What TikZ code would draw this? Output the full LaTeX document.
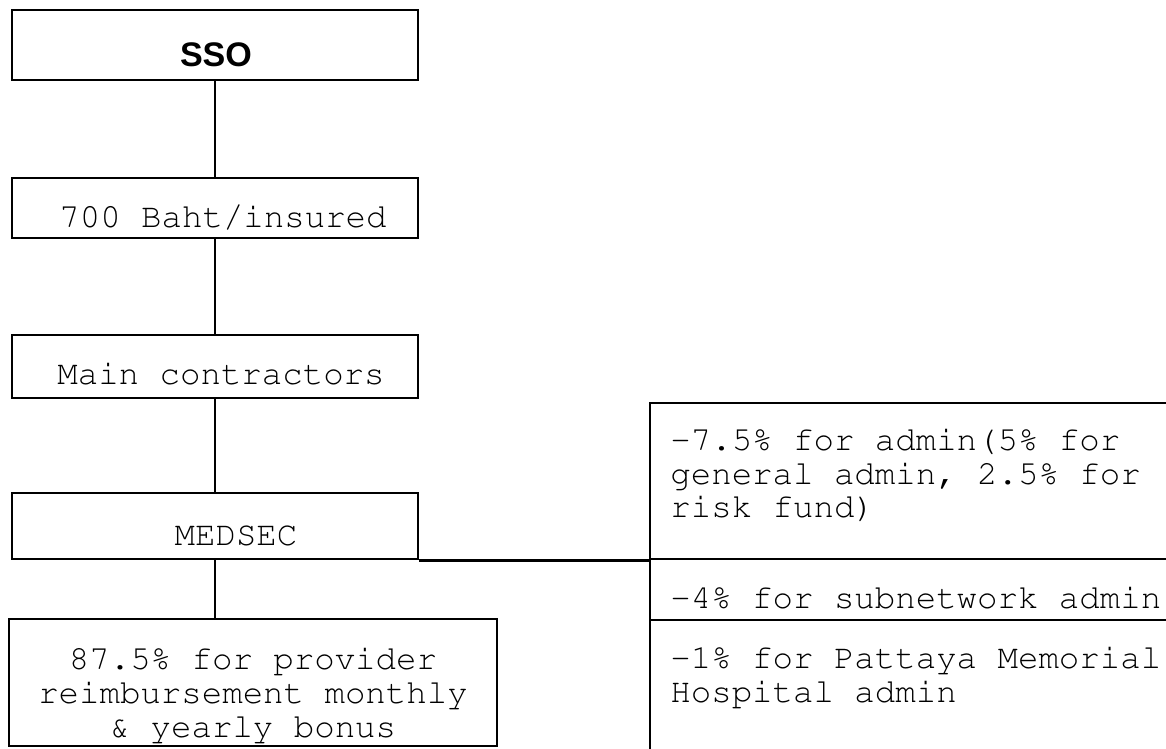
\documentclass[tikz,border=0pt]{standalone}
\usepackage[T1]{fontenc}
\usepackage{fontspec}
\setmainfont{Liberation Serif}
\setsansfont{Liberation Sans}
\usepackage{tikz}
\usetikzlibrary{calc, fit}

\begin{document}
\begin{tikzpicture}[x=0.02cm, y=-0.02cm, line width=1.6pt,
  box/.style={draw, inner sep=0pt},
  txt/.style={font=\fontencoding{T1}\fontfamily{pcr}\fontsize{19.4}{19.1}\selectfont, inner sep=0pt},
  head/.style={font=\sffamily\bfseries\fontsize{19.4}{19.1}\selectfont, inner sep=0pt}]
  \useasboundingbox (0,0) rectangle (1166,749);
  \clip (0,0) rectangle (1166,749);
  % left column
  \foreach \nm/\ya/\yb in {sso/10/80, baht/178/238, main/335/398, medsec/493/559}
    \node[box, fit={(12,\ya) (418,\yb)}] (\nm) {};
  \node[box, fit={(9,619) (497,746)}] (prov) {};
  % deductions, running off the right edge
  \node[box, fit={(650,403) (1200,559)}] (cut1) {};
  \node[box, fit={(650,559) (1200,620)}] (cut2) {};
  \node[box, fit={(650,620) (1200,770)}] (cut3) {};

  % base of a multi-line node = baseline of its last line
  \node[head, anchor=base] (ssotext) at (216,67) {SSO};
  \node[txt, anchor=base] (bahttext) at (223,228) {700 Baht/insured};
  \node[txt, anchor=base] (maintext) at (221,385) {Main contractors};
  \node[txt, anchor=base] (medsectext) at (236,545) {MEDSEC};
  \node[txt, anchor=base, align=center] (provtext) at (253,737)
    {87.5\% for provider\\reimbursement monthly\\\& yearly bonus};
  \node[txt, anchor=base west, align=left] (cut1text) at (669,518)
    {-7.5\% for admin(5\% for\\general admin, 2.5\% for\\risk fund)};
  \node[txt, anchor=base west] (cut2text) at (669,608) {-4\% for subnetwork admin};
  \node[txt, anchor=base west, align=left] (cut3text) at (669,702)
    {-1\% for Pattaya Memorial\\Hospital admin};

  \foreach \a/\b in {sso/baht, baht/main, main/medsec}
    \draw (\a) -- (\b);
  \draw (medsec.south) -- (medsec.south |- prov.north);
  \draw (medsec.south east) -- (cut1.south west);
\end{tikzpicture}
\end{document}
